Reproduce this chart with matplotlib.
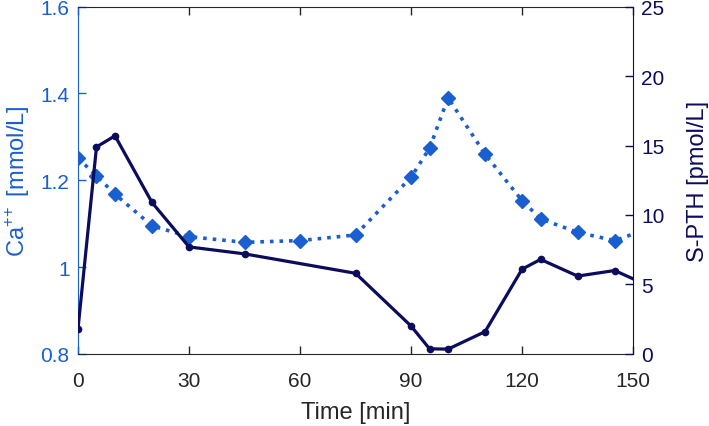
import numpy as np
import matplotlib.pyplot as plt

plt.rcParams['font.family'] = ['Liberation Sans', 'DejaVu Sans']
plt.rcParams['mathtext.fontset'] = 'custom'
plt.rcParams['mathtext.rm'] = 'Liberation Sans'

# Ca++ (left axis), last sample is where the line leaves the plot
t_ca = [0, 5, 10, 20, 30, 45, 60, 75, 90, 95, 100, 110, 120, 125, 135, 145, 150]
ca = [1.251, 1.210, 1.168, 1.095, 1.070, 1.057, 1.061, 1.074, 1.207, 1.274,
      1.390, 1.260, 1.153, 1.111, 1.080, 1.061, 1.076]

# S-PTH (right axis)
t_pth = [0, 5, 10, 20, 30, 45, 75, 90, 95, 100, 110, 120, 125, 135, 145, 150]
pth = [1.8, 14.9, 15.7, 10.9, 7.7, 7.2, 5.8, 2.0, 0.36, 0.34, 1.6, 6.1, 6.8,
       5.6, 6.0, 5.4]

xticks = [0, 30, 60, 90, 120, 150]
ca_ticks = [0.8, 1.0, 1.2, 1.4, 1.6]
ca_ticklabels = ['0.8', '1', '1.2', '1.4', '1.6']
pth_ticks = [0, 5, 10, 15, 20, 25]

blue = '#1a5fcf'
navy = '#0c0c5c'
grey = '#262626'

fig = plt.figure(figsize=(7.09, 4.27), dpi=100)
ax = fig.add_axes([0.110, 0.169, 0.783, 0.813])
ax2 = ax.twinx()

ax.plot(t_ca, ca, ':', color=blue, lw=2.6, marker='D', ms=7.5,
        markevery=list(range(len(t_ca) - 1)), zorder=3)
ax2.plot(t_pth, pth, '-', color=navy, lw=2.3, marker='o', ms=4.5,
         markevery=list(range(len(t_pth) - 1)), zorder=3)

ax.set_xlim(0, 150)
ax.set_ylim(0.8, 1.6)
ax2.set_ylim(0, 25)
ax.set_xticks(xticks)
ax.set_yticks(ca_ticks)
ax.set_yticklabels(ca_ticklabels)
ax2.set_yticks(pth_ticks)

ax.tick_params(axis='x', direction='in', top=True, colors=grey, labelsize=15,
               length=6, width=1, pad=12)
ax.tick_params(axis='y', direction='in', colors=blue, labelsize=15,
               length=6, width=1, pad=6)
ax2.tick_params(axis='y', direction='in', colors=navy, labelsize=15,
                length=6, width=1, pad=6)

for s in ['top', 'bottom']:
    ax.spines[s].set_color(grey)
    ax2.spines[s].set_visible(False)
ax.spines['left'].set_color(blue)
ax.spines['right'].set_visible(False)
ax2.spines['left'].set_visible(False)
ax2.spines['right'].set_color(navy)

ax.set_xlabel('Time [min]', fontsize=17, color=grey, labelpad=8)
ax.set_ylabel(r'Ca$^{+\!+}$ [mmol/L]', fontsize=17, color=blue, labelpad=6)
ax2.set_ylabel('S-PTH [pmol/L]', fontsize=17, color=navy, labelpad=16)

fig.savefig('out.png', dpi=100)
